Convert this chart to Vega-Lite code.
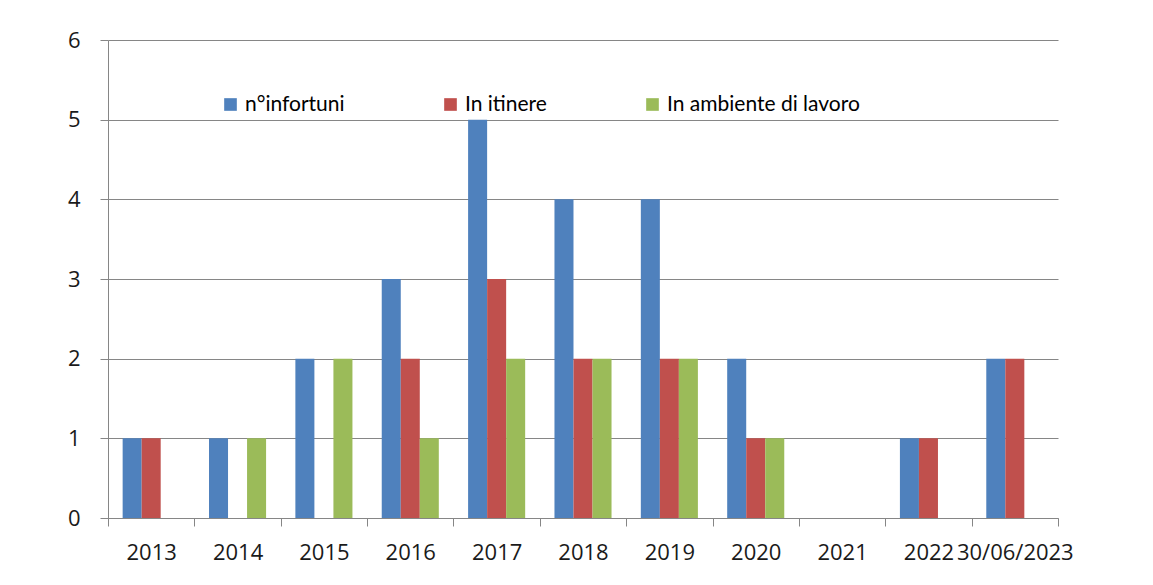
{
  "$schema": "https://vega.github.io/schema/vega-lite/v6.json",
  "autosize": "none",
  "width": 950,
  "height": 478,
  "padding": {"left": 108, "top": 40, "right": 95, "bottom": 67},
  "background": "white",
  "config": {
    "view": {"stroke": null},
    "font": "Open Sans"
  },
  "data": {
    "values": [
      {"anno": "2013", "serie": "n°infortuni", "valore": 1},
      {"anno": "2013", "serie": "In itinere", "valore": 1},
      {"anno": "2013", "serie": "In ambiente di lavoro", "valore": 0},
      {"anno": "2014", "serie": "n°infortuni", "valore": 1},
      {"anno": "2014", "serie": "In itinere", "valore": 0},
      {"anno": "2014", "serie": "In ambiente di lavoro", "valore": 1},
      {"anno": "2015", "serie": "n°infortuni", "valore": 2},
      {"anno": "2015", "serie": "In itinere", "valore": 0},
      {"anno": "2015", "serie": "In ambiente di lavoro", "valore": 2},
      {"anno": "2016", "serie": "n°infortuni", "valore": 3},
      {"anno": "2016", "serie": "In itinere", "valore": 2},
      {"anno": "2016", "serie": "In ambiente di lavoro", "valore": 1},
      {"anno": "2017", "serie": "n°infortuni", "valore": 5},
      {"anno": "2017", "serie": "In itinere", "valore": 3},
      {"anno": "2017", "serie": "In ambiente di lavoro", "valore": 2},
      {"anno": "2018", "serie": "n°infortuni", "valore": 4},
      {"anno": "2018", "serie": "In itinere", "valore": 2},
      {"anno": "2018", "serie": "In ambiente di lavoro", "valore": 2},
      {"anno": "2019", "serie": "n°infortuni", "valore": 4},
      {"anno": "2019", "serie": "In itinere", "valore": 2},
      {"anno": "2019", "serie": "In ambiente di lavoro", "valore": 2},
      {"anno": "2020", "serie": "n°infortuni", "valore": 2},
      {"anno": "2020", "serie": "In itinere", "valore": 1},
      {"anno": "2020", "serie": "In ambiente di lavoro", "valore": 1},
      {"anno": "2021", "serie": "n°infortuni", "valore": 0},
      {"anno": "2021", "serie": "In itinere", "valore": 0},
      {"anno": "2021", "serie": "In ambiente di lavoro", "valore": 0},
      {"anno": "2022", "serie": "n°infortuni", "valore": 1},
      {"anno": "2022", "serie": "In itinere", "valore": 1},
      {"anno": "2022", "serie": "In ambiente di lavoro", "valore": 0},
      {"anno": "30/06/2023", "serie": "n°infortuni", "valore": 2},
      {"anno": "30/06/2023", "serie": "In itinere", "valore": 2},
      {"anno": "30/06/2023", "serie": "In ambiente di lavoro", "valore": 0}
    ]
  },
  "mark": {"type": "bar"},
  "encoding": {
    "x": {
      "field": "anno",
      "type": "nominal",
      "sort": null,
      "scale": {"paddingInner": 0, "paddingOuter": 0},
      "axis": {
        "title": null,
        "labelAngle": 0,
        "labelFontSize": 22,
        "labelColor": "#1a1a1a",
        "labelPadding": 16,
        "tickBand": "extent",
        "tickSize": 8,
        "tickColor": "#868686",
        "domainColor": "#868686",
        "labelOverlap": false,
        "grid": false
      }
    },
    "xOffset": {
      "field": "serie",
      "type": "nominal",
      "sort": ["n°infortuni", "In itinere", "In ambiente di lavoro"],
      "scale": {"paddingInner": 0, "paddingOuter": 0.77}
    },
    "y": {
      "field": "valore",
      "type": "quantitative",
      "scale": {"domain": [0, 6], "nice": false},
      "axis": {
        "title": null,
        "values": [0, 1, 2, 3, 4, 5, 6],
        "labelOverlap": false,
        "labelFontSize": 22,
        "labelColor": "#1a1a1a",
        "labelPadding": 20,
        "tickSize": 8,
        "tickColor": "#868686",
        "domainColor": "#868686",
        "gridColor": "#868686",
        "gridWidth": 1
      }
    },
    "color": {
      "field": "serie",
      "type": "nominal",
      "sort": ["n°infortuni", "In itinere", "In ambiente di lavoro"],
      "scale": {
        "domain": ["n°infortuni", "In itinere", "In ambiente di lavoro"],
        "range": ["#4F81BD", "#C0504D", "#9BBB59"]
      },
      "legend": {
        "title": null,
        "orient": "none",
        "legendX": 112,
        "legendY": 54,
        "direction": "horizontal",
        "columns": 3,
        "gridAlign": "none",
        "columnPadding": 95,
        "symbolType": "square",
        "symbolSize": 160,
        "symbolStrokeWidth": 0,
        "labelFontSize": 21,
        "labelFont": "Lato",
        "labelColor": "#000000",
        "labelLimit": 300
      }
    }
  }
}
